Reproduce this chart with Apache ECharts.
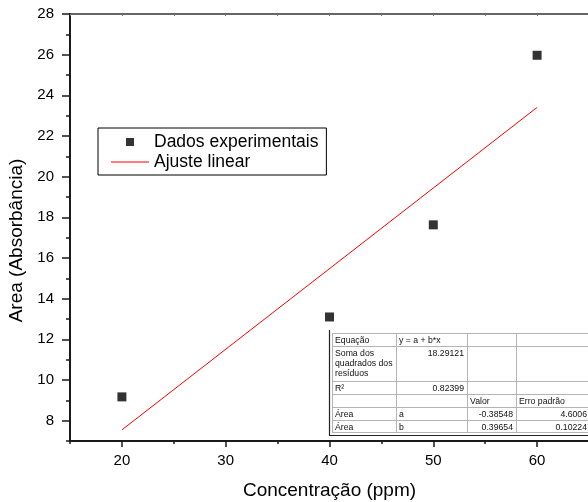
<!DOCTYPE html>
<html>
<head>
<meta charset="utf-8">
<script src="https://cdn.jsdelivr.net/npm/echarts@6/dist/echarts.min.js"></script>
<style>
  html, body { margin: 0; padding: 0; background: #fff; }
  #chart { width: 588px; height: 502px; }
</style>
</head>
<body>
<div id="chart"></div>
<script>
// Measured points
const concentracao = [20, 40, 50, 60];
const areaMedida = [9.17, 13.1, 17.63, 25.97];

// Linear fit y = a + b*x, evaluated at the ends of the measured range
const ajusteX = [20, 60];
const ajusteY = [7.5453, 23.4069];

// Axis ticks and labels
const xLabelValues = [20, 30, 40, 50, 60];
const xMinorValues = [15, 25, 35, 45, 55];
const yLabelValues = [8, 10, 12, 14, 16, 18, 20, 22, 24, 26, 28];
const yMinorValues = [7, 9, 11, 13, 15, 17, 19, 21, 23, 25, 27];

// Fit summary table
const tabelaLinhas = [
  ['Equação', 'y = a + b*x', '', ''],
  ['Soma dos\nquadrados dos\nresíduos', '18.29121', '', ''],
  ['R²', '0.82399', '', ''],
  ['', '', 'Valor', 'Erro padrão'],
  ['Área', 'a', '-0.38548', '4.6006'],
  ['Área', 'b', '0.39654', '0.10224']
];

const FONT = 'Liberation Sans, Arial, sans-serif';
const AXIS_COLOR = '#1a1a1a';

// table geometry
const colX = [332, 396, 467, 516, 590];
const rowY = [333, 346, 381, 394, 407, 420, 432];

function buildTable() {
  const children = [];
  children.push({
    type: 'rect', shape: { x: 329, y: 330, width: 262, height: 105 },
    style: { fill: '#fff', stroke: null }, z: 10
  });
  // grid lines
  for (let r = 0; r < rowY.length; r++) {
    children.push({
      type: 'line', shape: { x1: colX[0], y1: rowY[r] + 0.5, x2: colX[colX.length - 1], y2: rowY[r] + 0.5 },
      style: { stroke: '#b4b4b4', lineWidth: 1 }, z: 11
    });
  }
  for (let c = 0; c < colX.length; c++) {
    children.push({
      type: 'line', shape: { x1: colX[c] + 0.5, y1: rowY[0], x2: colX[c] + 0.5, y2: rowY[rowY.length - 1] },
      style: { stroke: '#b4b4b4', lineWidth: 1 }, z: 11
    });
  }
  // dark frame on left and bottom
  children.push({
    type: 'polyline', shape: { points: [[329.5, 330], [329.5, 435.5], [590, 435.5]] },
    style: { stroke: '#222', lineWidth: 1.2, fill: null }, z: 12
  });
  // cell texts
  tabelaLinhas.forEach((linha, r) => {
    linha.forEach((txt, c) => {
      if (!txt) return;
      const numeric = /^-?[\d.]+$/.test(txt);
      children.push({
        type: 'text', z: 13,
        style: {
          text: txt,
          x: numeric ? colX[c + 1] - 3 : colX[c] + 3,
          y: rowY[r] + 2.5,
          align: numeric ? 'right' : 'left',
          verticalAlign: 'top',
          fontFamily: FONT,
          fontSize: 8.7,
          lineHeight: 10,
          fill: '#111'
        }
      });
    });
  });
  return { type: 'group', children: children };
}

const chart = echarts.init(document.getElementById('chart'), null, { renderer: 'canvas' });

const option = {
  animation: false,
  backgroundColor: '#fff',
  textStyle: { fontFamily: FONT },
  grid: { left: 70, top: 14, width: 519, bottom: 61, outerBoundsMode: 'none', containLabel: false },
  legend: {
    left: 98, top: 128,
    orient: 'vertical',
    padding: [5, 8, 4, 13],
    itemGap: 2,
    itemWidth: 38,
    itemHeight: 8,
    borderColor: '#000',
    borderWidth: 1,
    borderRadius: 0,
    backgroundColor: '#fff',
    textStyle: { fontFamily: FONT, fontSize: 17.5, color: '#000' },
    data: [
      { name: 'Dados experimentais', icon: 'path://M0,0L10,0L10,10L0,10Z' },
      { name: 'Ajuste linear', icon: 'path://M0,0L38,0L38,1L0,1Z' }
    ]
  },
  xAxis: [
    {
      type: 'value', position: 'bottom', min: 15, max: 65,
      name: 'Concentração (ppm)', nameLocation: 'middle', nameGap: 40,
      nameTextStyle: { fontFamily: FONT, fontSize: 19, color: '#000' },
      axisLine: { show: true, lineStyle: { color: AXIS_COLOR, width: 2 } },
      axisTick: { show: true, inside: false, length: 6, customValues: xLabelValues, lineStyle: { color: AXIS_COLOR, width: 1.5 } },
      axisLabel: { show: true, margin: 12, customValues: xLabelValues, fontSize: 15, color: '#000', fontFamily: FONT },
      splitLine: { show: false }
    },
    {
      type: 'value', position: 'bottom', min: 15, max: 65,
      axisLine: { show: false },
      axisTick: { show: true, inside: false, length: 3, customValues: xMinorValues, lineStyle: { color: AXIS_COLOR, width: 1.5 } },
      axisLabel: { show: false },
      splitLine: { show: false }
    },
    {
      type: 'value', position: 'top', min: 15, max: 65,
      axisLine: { show: true, lineStyle: { color: '#333', width: 1.5 } },
      axisTick: { show: true, inside: true, length: 2, customValues: xMinorValues.concat(xLabelValues), lineStyle: { color: '#777', width: 1 } },
      axisLabel: { show: false },
      splitLine: { show: false }
    }
  ],
  yAxis: [
    {
      type: 'value', position: 'left', min: 7, max: 28,
      name: 'Area (Absorbância)', nameLocation: 'middle', nameGap: 39,
      nameTextStyle: { fontFamily: FONT, fontSize: 19, color: '#000', padding: [0, 26, 0, 0] },
      axisLine: { show: true, lineStyle: { color: AXIS_COLOR, width: 2 } },
      axisTick: { show: true, inside: false, length: 8, customValues: yLabelValues, lineStyle: { color: AXIS_COLOR, width: 1.5 } },
      axisLabel: { show: true, margin: 16, customValues: yLabelValues, fontSize: 15, color: '#000', fontFamily: FONT },
      splitLine: { show: false }
    },
    {
      type: 'value', position: 'left', min: 7, max: 28,
      axisLine: { show: false },
      axisTick: { show: true, inside: false, length: 4, customValues: yMinorValues, lineStyle: { color: AXIS_COLOR, width: 1.5 } },
      axisLabel: { show: false },
      splitLine: { show: false }
    }
  ],
  series: [
    {
      name: 'Ajuste linear',
      type: 'line',
      xAxisIndex: 0, yAxisIndex: 0,
      data: ajusteX.map((x, i) => [x, ajusteY[i]]),
      symbol: 'none',
      lineStyle: { color: '#ff0000', width: 1 },
      itemStyle: { color: '#ff0000' },
      z: 2
    },
    {
      name: 'Dados experimentais',
      type: 'scatter',
      xAxisIndex: 0, yAxisIndex: 0,
      data: concentracao.map((x, i) => [x, areaMedida[i]]),
      symbol: 'rect',
      symbolSize: 9,
      itemStyle: { color: '#000' },
      z: 3
    }
  ],
  graphic: [buildTable()]
};

chart.setOption(option);
</script>
</body>
</html>
